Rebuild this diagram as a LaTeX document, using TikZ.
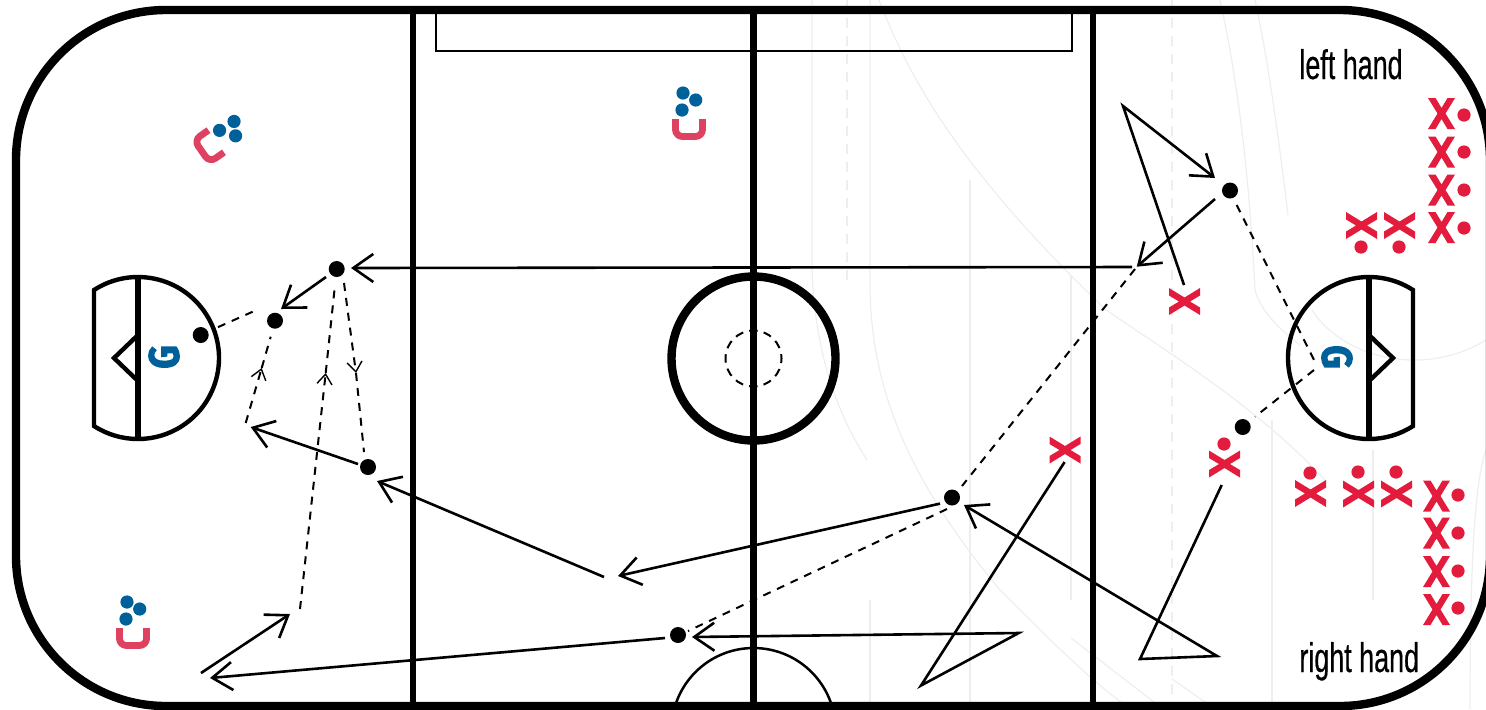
\documentclass[tikz,border=0pt]{standalone}
\usepackage{fontspec}
\usetikzlibrary{arrows.meta}
\newfontfamily\lblfont[FakeStretch=0.65,FakeBold=0.4]{Liberation Sans}
\newfontfamily\gfont[FakeStretch=0.85,FakeBold=3]{Fira Sans Bold}
\definecolor{plred}{HTML}{E31B3C}
\definecolor{crimson}{HTML}{DF4260}
\definecolor{puck}{HTML}{00609A}
\definecolor{faint}{HTML}{EEEEEE}
\tikzset{
  rinkline/.style={line width=#1,black},
  faintline/.style={faint,line width=0.6pt},
  bdot/.style={circle,fill=black,inner sep=0pt,minimum size=8pt},
  rdot/.style={circle,fill=plred,inner sep=0pt,minimum size=6.6pt},
  cdot/.style={circle,fill=puck,inner sep=0pt,minimum size=6.6pt},
  skate/.style={line width=1.3pt,line join=miter,-{Straight Barb[length=10pt,width=14pt]}},
  pass/.style={line width=1pt,dash pattern=on 4pt off 3.5pt},
  passtip/.style={pass,-{Straight Barb[length=5pt,width=7.5pt,line width=0.7pt]}},
  lbl/.style={font=\lblfont\fontsize{20.7pt}{22pt}\selectfont,anchor=base west,inner sep=0pt},
  goalie/.style={font=\gfont\fontsize{21pt}{22pt}\selectfont,text=puck,inner sep=0pt},
  plx/.pic={\fill[plred] (-13.5,-15.5)--(-6,-15.5)--(0,-5.5)--(6,-15.5)--(13.5,-15.5)--(4,0)--(13.5,15.5)--(6,15.5)--(0,5.5)--(-6,15.5)--(-13.5,15.5)--(-4,0)--cycle;},
  coach/.pic={\draw[crimson,line width=3.4pt,rounded corners=3.5pt] (-13.5,-10)--(-13.5,7.5)--(13.5,7.5)--(13.5,-10);
    \node[cdot] at (-6,-36) {};\node[cdot] at (6.7,-29) {};\node[cdot] at (-7,-19) {};}
}
\begin{document}
\begin{tikzpicture}[x=0.5pt,y=-0.5pt]
\useasboundingbox (0,0) rectangle (1486,709);
\clip (0,0) rectangle (1486,709);
% faint background lines
\draw[faintline] (812,0)--(812,270) .. controls (815,350) and (835,410) .. (867,460);
\draw[faintline] (870,0)--(870,290) .. controls (872,380) and (900,470) .. (1000,590) .. controls (1050,640) and (1090,680) .. (1130,709);
\draw[faintline,dash pattern=on 5pt off 4pt] (847,0)--(847,280);
\draw[faintline] (970,180)--(970,709);
\draw[faintline] (1071,275)--(1071,600);
\draw[faintline,dash pattern=on 5pt off 4pt] (1172,0)--(1172,709);
\draw[faintline] (1272,420)--(1272,709);
\draw[faintline] (1373,450)--(1373,600);
\draw[faintline] (870,600)--(870,709);
\draw[faintline] (879,0) .. controls (910,80) and (960,170) .. (1106,310) .. controls (1180,360) and (1260,410) .. (1325,480);
\draw[faintline] (1220,0) .. controls (1240,90) and (1250,190) .. (1255,290) .. controls (1260,310) and (1280,330) .. (1300,345);
\draw[faintline] (1255,0) .. controls (1270,70) and (1280,150) .. (1288,215);
\draw[faintline] (1312,310) .. controls (1340,355) and (1420,380) .. (1486,340);
\draw[faintline] (1071,638)--(1163,709);
\draw[faintline] (1172,679)--(1215,709);
\draw[faintline] (1486,450) .. controls (1475,480) and (1470,560) .. (1470,709);
% rink
\draw[rinkline=1.25pt] (436,12)--(436,51)--(1072,51)--(1072,12);
\draw[rinkline=3.3pt] (413,10)--(413,706);
\draw[rinkline=3.3pt] (1093,10)--(1093,706);
\draw[rinkline=3.7pt] (753.5,10)--(753.5,706);
\draw[rinkline=1.25pt] (753.5,730) circle[radius=41pt];
\draw[rinkline=4.2pt,rounded corners=75pt] (16,10) rectangle (1490,706);
\draw[rinkline=4.2pt] (753.5,358.5) circle[radius=41pt];
\draw[line width=1pt,dash pattern=on 4.2pt off 3.1pt,dash phase=2pt] (753.5,358.5) circle[radius=14pt];
% creases
\draw[rinkline=2.2pt] (94,290) arc[start angle=122.9,end angle=-122.9,radius=40.5pt]--cycle;
\draw[rinkline=2.7pt] (138,277)--(138,440);
\draw[rinkline=2.2pt] (138,335)--(114,358)--(138,381);
\draw[rinkline=2.2pt] (1413,290) arc[start angle=57.1,end angle=302.9,radius=40.5pt]--cycle;
\draw[rinkline=2.7pt] (1369,277)--(1369,440);
\draw[rinkline=2.2pt] (1369,335)--(1393,358)--(1369,381);
\node[goalie,rotate=90] (gl) at (164,357) {G};
\node[goalie,rotate=-90] (gr) at (1337,357) {G};
% coaches
\pic at (689,129) {coach};
\pic at (133,638) {coach};
\pic[rotate=-55] at (208,147) {coach};
% text
\node[lbl] (lh) at (1299,79) {left hand};
\node[lbl] (rh) at (1299,672) {right hand};
% players, upright
\pic at (1441.5,113.5) {plx}; \node[rdot] (r1) at (1464,115) {};
\pic at (1441.5,152) {plx};   \node[rdot] (r2) at (1464,152) {};
\pic at (1441.5,190) {plx};   \node[rdot] (r3) at (1464,190) {};
\pic at (1441.5,227.5) {plx}; \node[rdot] (r4) at (1464,228) {};
\pic at (1436.5,496) {plx};   \node[rdot] (r5) at (1458,495) {};
\pic at (1436.5,533) {plx};   \node[rdot] (r6) at (1458,533) {};
\pic at (1436.5,571.5) {plx}; \node[rdot] (r7) at (1458,571) {};
\pic at (1436.5,609.5) {plx}; \node[rdot] (r8) at (1458,608) {};
% players, rotated
\pic[rotate=90] at (1361.5,225.5) {plx}; \node[rdot] (r9) at (1361,247) {};
\pic[rotate=90] at (1399.5,225.5) {plx}; \node[rdot] (r10) at (1399,247) {};
\pic[rotate=90] at (1310.5,493.5) {plx}; \node[rdot] (r11) at (1310,473) {};
\pic[rotate=90] at (1358.5,494) {plx};   \node[rdot] (r12) at (1358,472) {};
\pic[rotate=90] at (1396.5,494) {plx};   \node[rdot] (r13) at (1396,472) {};
\pic[rotate=90] at (1224.5,464) {plx};   \node[rdot] (r14) at (1224,444) {};
\pic[rotate=90] at (1184.5,301.5) {plx};
\pic[rotate=90] at (1065,450) {plx};
% pucks
\node[bdot] (d1) at (1230,190.5) {};
\node[bdot] (d2) at (336.7,269) {};
\node[bdot] (d3) at (275,320.7) {};
\node[bdot] (d4) at (200.7,335) {};
\node[bdot] (d5) at (368,467) {};
\node[bdot] (d6) at (952,497.5) {};
\node[bdot] (d7) at (678,635) {};
\node[bdot] (d8) at (1242.7,427) {};
% way points
\coordinate (a1) at (1184,285); \coordinate (a2) at (1123,106); \coordinate (a3) at (1215,178);
\coordinate (b1) at (1215,199); \coordinate (b2) at (1136.7,266.7);
\coordinate (c1) at (1132,267); \coordinate (c2) at (351,268);
\coordinate (e1) at (1135,269); \coordinate (e2) at (962,486);
\coordinate (f1) at (1236.7,205); \coordinate (f2) at (1314,360);
\coordinate (g1) at (1314,370); \coordinate (g2) at (1255,416.7);
\coordinate (h1) at (1221.7,485); \coordinate (h2) at (1140,659); \coordinate (h3) at (1217,656); \coordinate (h4) at (964,505);
\coordinate (i1) at (940,503.6); \coordinate (i2) at (618,576);
\coordinate (j1) at (947,509); \coordinate (j2) at (688,631);
\coordinate (k1) at (1064.6,462); \coordinate (k2) at (921,685.5); \coordinate (k3) at (1018.7,633); \coordinate (k4) at (692,637);
\coordinate (l1) at (665,638); \coordinate (l2) at (210,678);
\coordinate (m1) at (201,673); \coordinate (m2) at (290,614);
\coordinate (n1) at (300,609); \coordinate (n2) at (325.7,373); \coordinate (n3) at (335,285);
\coordinate (o1) at (344,283); \coordinate (o2) at (356,373); \coordinate (o3) at (364,452);
\coordinate (p1) at (604,577); \coordinate (p2) at (377,481);
\coordinate (q1) at (358,464); \coordinate (q2) at (250.7,427);
\coordinate (s1) at (245.7,423); \coordinate (s2) at (261.7,368); \coordinate (s3) at (270.7,336.7);
\coordinate (t1) at (326,277); \coordinate (t2) at (281,309);
\coordinate (u1) at (252.7,311.7); \coordinate (u2) at (216,328);
% connectors
\draw[skate] (a1)--(a2)--(a3);
\draw[skate] (b1)--(b2);
\draw[skate] (c1)--(c2);
\draw[pass] (e1)--(e2);
\draw[pass] (f1)--(f2);
\draw[pass] (g1)--(g2);
\draw[skate] (h1)--(h2)--(h3)--(h4);
\draw[skate] (i1)--(i2);
\draw[pass] (j1)--(j2);
\draw[skate] (k1)--(k2)--(k3)--(k4);
\draw[skate] (l1)--(l2);
\draw[skate] (m1)--(m2);
\draw[passtip] (n1)--(n2); \draw[pass] (n2)--(n3);
\draw[passtip] (o1)--(o2); \draw[pass] (o2)--(o3);
\draw[skate] (p1)--(p2);
\draw[skate] (q1)--(q2);
\draw[passtip] (s1)--(s2); \draw[pass] (s2)--(s3);
\draw[skate] (t1)--(t2);
\draw[pass] (u1)--(u2);
\end{tikzpicture}
\end{document}
